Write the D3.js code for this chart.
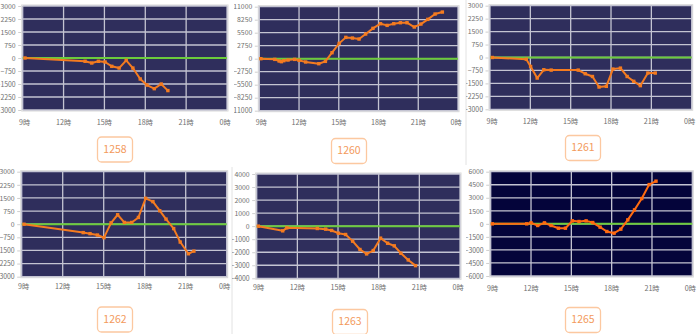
<!DOCTYPE html>
<html><head><meta charset="utf-8">
<script src="https://cdn.jsdelivr.net/npm/d3@7"></script>
<style>html,body{margin:0;padding:0;background:#fff;}svg{display:block;}</style>
</head><body>
<svg id="c" width="700" height="334"></svg>
<script>
// ---- data ----
const panelNames = ["1258", "1260", "1261", "1262", "1263", "1265"];
const xTickHours = [9, 12, 15, 18, 21, 24];
const xTickLabels = ["9時", "12時", "15時", "18時", "21時", "0時"];

const t1258 = [9.17, 13.58, 14.07, 14.56, 15.05, 15.54, 16.08, 16.6, 17.09, 17.63, 18.12, 18.66, 19.17, 19.66];
const v1258 = [0, -190, -290, -190, -230, -480, -580, -135, -580, -1210, -1560, -1770, -1500, -1880];

const t1260 = [9.12, 10.17, 10.5, 10.67, 10.85, 11.17, 11.67, 12.0, 12.5, 13.49, 13.99, 14.49, 15.03, 15.53, 16.03, 16.53, 17.03, 17.58, 18.15, 18.65, 19.15, 19.65, 20.15, 20.7, 21.2, 21.72, 22.27, 22.82];
const v1260 = [0, -140, -490, -630, -420, -280, -140, -350, -700, -1060, -560, 1270, 3240, 4510, 4370, 4160, 5220, 6420, 7400, 7050, 7400, 7610, 7610, 6700, 7330, 8320, 9450, 9870];

const t1261 = [9.17, 11.7, 12.02, 12.51, 13.0, 13.55, 15.56, 16.08, 16.62, 17.11, 17.65, 18.14, 18.7, 19.2, 19.69, 20.18, 20.74, 21.29];
const v1261 = [0, -100, -520, -1190, -710, -730, -730, -940, -1100, -1710, -1670, -670, -615, -1100, -1380, -1630, -900, -900];

const t1262 = [9.17, 13.5, 14.0, 14.54, 15.02, 15.54, 16.02, 16.51, 17.05, 17.54, 18.07, 18.6, 19.1, 19.56, 20.12, 20.6, 21.2, 21.6];
const v1262 = [0, -480, -540, -620, -770, 77, 540, 100, 100, 385, 1480, 1290, 770, 290, -250, -1020, -1690, -1540];

const t1263 = [9.12, 10.92, 11.22, 13.47, 14.09, 14.53, 15.02, 15.56, 16.08, 16.62, 17.11, 17.6, 18.14, 18.66, 19.15, 19.64, 20.18, 20.72];
const v1263 = [0, -360, -130, -180, -230, -330, -540, -640, -1150, -1790, -2130, -1870, -920, -1310, -1510, -2080, -2590, -3030];

const t1265 = [9.12, 11.68, 12.0, 12.5, 13.0, 13.49, 14.04, 14.56, 15.08, 15.57, 16.1, 16.59, 17.14, 17.64, 18.18, 18.68, 19.2, 19.7, 20.24, 20.79, 21.3];
const v1265 = [0, 0, 115, -190, 115, -190, -500, -500, 345, 270, 345, 150, -380, -880, -1070, -610, 460, 1610, 2910, 4520, 4910];

const yMaxes = [3000, 11000, 3000, 3000, 4000, 6000];
const ySteps = [750, 2750, 750, 750, 1000, 1500];

// ---- layout (positions/styles) ----
const layout = [
  {plot:[22.7, 6, 227, 110],    xl:123, clip:[0,0,232,165],     box:[115,149.5], bg:"#2f2e5c", line:"#f47b20"},
  {plot:[259.3, 6.7, 458, 110.7], xl:123, clip:[234,0,232,165], box:[349,151],   bg:"#2f2e5c", line:"#f47b20"},
  {plot:[490, 5.7, 691.7, 109.3], xl:122, clip:[466,0,234,165], box:[583,148],   bg:"#2f2e5c", line:"#f47b20"},
  {plot:[21.7, 171.7, 226.7, 276.7], xl:287, clip:[0,165,232,169], box:[115,319.5], bg:"#2f2e5c", line:"#f47b20"},
  {plot:[256.7, 174, 460, 278.3], xl:288, clip:[232,165,234,169], box:[350,322],  bg:"#2f2e5c", line:"#f47b20"},
  {plot:[490.7, 171.7, 692.3, 276], xl:289, clip:[466,165,234,169], box:[583,320],  bg:"#04043a", line:"#ff6a10"}
];
const series = [[t1258,v1258],[t1260,v1260],[t1261,v1261],[t1262,v1262],[t1263,v1263],[t1265,v1265]];

const svg = d3.select("#c");
const font = "'Noto Sans CJK JP','Noto Sans',sans-serif";

// separators
svg.append("line").attr("x1",466).attr("x2",466).attr("y1",0).attr("y2",165).attr("stroke","#e2e2e2").attr("stroke-width",1);
svg.append("line").attr("x1",232).attr("x2",232).attr("y1",167).attr("y2",334).attr("stroke","#e2e2e2").attr("stroke-width",1);

layout.forEach((L, i) => {
  const [x0,y0,x1,y1] = L.plot;
  const clipId = "clip"+i;
  svg.append("clipPath").attr("id",clipId).append("rect")
     .attr("x",L.clip[0]).attr("y",L.clip[1]).attr("width",L.clip[2]).attr("height",L.clip[3]);
  const g = svg.append("g").attr("clip-path","url(#"+clipId+")");

  const x = d3.scaleLinear().domain([9,24]).range([x0,x1]);
  const y = d3.scaleLinear().domain([-yMaxes[i], yMaxes[i]]).range([y1,y0]);
  const yTicks = d3.range(-yMaxes[i], yMaxes[i]+1, ySteps[i]);

  // border
  g.append("rect").attr("x",x0-1).attr("y",y0-1).attr("width",x1-x0+2).attr("height",y1-y0+2)
   .attr("fill","none").attr("stroke","#d8d8d8").attr("stroke-width",1);
  g.append("rect").attr("x",x0).attr("y",y0).attr("width",x1-x0).attr("height",y1-y0).attr("fill",L.bg);

  // grid
  g.selectAll(".hg").data(yTicks).enter().append("line")
   .attr("x1",x0).attr("x2",x1).attr("y1",d=>y(d)).attr("y2",d=>y(d))
   .attr("stroke","#c4c4d2").attr("stroke-width",1.3);
  g.selectAll(".vg").data(xTickHours).enter().append("line")
   .attr("x1",d=>x(d)).attr("x2",d=>x(d)).attr("y1",y0).attr("y2",y1)
   .attr("stroke","#c4c4d2").attr("stroke-width",1.3);

  // zero line
  g.append("line").attr("x1",x0).attr("x2",x1).attr("y1",y(0)).attr("y2",y(0))
   .attr("stroke","#6ccb3c").attr("stroke-width",2);

  // y axis
  const yAxis = d3.axisLeft(y).tickValues(yTicks).tickSize(3).tickPadding(2.5).tickFormat(d3.format("d"));
  const ya = g.append("g").attr("transform","translate("+(x0-1.5)+",0)").call(yAxis);
  ya.select(".domain").remove();
  ya.selectAll("line").attr("stroke","#cfcfcf");
  ya.selectAll("text").attr("fill","#6e6e6e").style("font-family",font).style("font-size","6.9px");

  // x axis labels
  g.selectAll(".xl").data(xTickHours).enter().append("text")
   .attr("x",(d,j)=> x(d) + (j===0?2:(j===xTickHours.length-1?-2:0)))
   .attr("y",L.xl).attr("text-anchor","middle").attr("dominant-baseline","middle")
   .attr("fill","#6e6e6e").style("font-family",font).style("font-size","7.2px")
   .text((d,j)=>xTickLabels[j]);

  // line
  const [ts, vs] = series[i];
  const pts = ts.map((t,k)=>[t, vs[k]]);
  const pg = g.append("g");
  pg.append("path").datum(pts)
   .attr("d", d3.line().x(d=>x(d[0])).y(d=>y(d[1])))
   .attr("fill","none").attr("stroke",L.line).attr("stroke-width",2).attr("stroke-linejoin","round");
  pg.selectAll("rect.m").data(pts).enter().append("rect")
   .attr("x",d=>x(d[0])-1.7).attr("y",d=>y(d[1])-1.7).attr("width",3.4).attr("height",3.4)
   .attr("fill",L.line);

  // name box
  const [bx,by] = L.box;
  svg.append("rect").attr("x",bx-17.5).attr("y",by-12.5).attr("width",35).attr("height",25).attr("rx",4)
   .attr("fill","#fff").attr("stroke","#fcc8a0").attr("stroke-width",1.3);
  svg.append("text").attr("x",bx).attr("y",by+0.5).attr("text-anchor","middle").attr("dominant-baseline","middle")
   .attr("fill","#f39a5c").style("font-family",font).style("font-size","10.5px").text(panelNames[i]);
});
</script>
</body></html>
